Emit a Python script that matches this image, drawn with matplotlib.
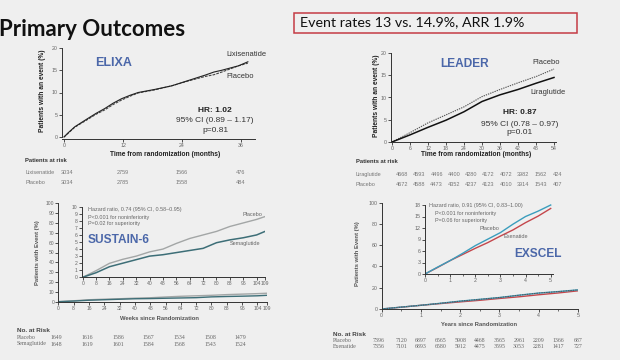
import matplotlib
matplotlib.use("Agg")
import matplotlib.pyplot as plt
from matplotlib.patches import Rectangle

# ---------------- data ----------------
title = "Primary Outcomes"
banner = "Event rates 13 vs. 14.9%, ARR 1.9%"

# ELIXA (months, % with event)
elixa_t = [0, 0.9, 2.2, 4.9, 6.5, 8.3, 10.0, 11.7, 13.5, 15.1, 18.5, 21.9, 25.3, 28.7, 30.5, 32.1, 35.5, 37.4]
elixa_lixi = [0, 1.0, 2.3, 4.2, 5.3, 6.4, 7.6, 8.6, 9.4, 10.0, 10.7, 11.5, 12.7, 13.9, 14.6, 15.0, 16.0, 16.9]
elixa_plac = [0, 0.9, 2.2, 4.0, 5.1, 6.1, 7.3, 8.3, 9.2, 9.9, 10.6, 11.5, 12.6, 13.6, 14.0, 14.6, 16.0, 16.6]
elixa_risk_t = [0, 12, 24, 36]
elixa_risk_lixi = ["3034", "2759", "1566", "476"]
elixa_risk_plac = ["3034", "2785", "1558", "484"]

# LEADER
leader_t = [0, 6, 12, 18, 24, 30, 36, 42, 48, 54]
leader_plac = [0, 2.1, 4.3, 6.1, 7.9, 10.2, 11.8, 13.3, 14.7, 16.4]
leader_lira = [0, 1.6, 3.3, 4.9, 6.8, 9.1, 10.6, 11.8, 13.2, 14.5]
leader_risk_t = [0, 6, 12, 18, 24, 30, 36, 42, 48, 54]
leader_risk_lira = ["4668", "4593", "4496", "4400", "4280", "4172", "4072", "3982", "1562", "424"]
leader_risk_plac = ["4672", "4588", "4473", "4352", "4237", "4123", "4010", "3914", "1543", "407"]

# SUSTAIN-6 (weeks)
sus_t = [0, 8, 16, 24, 32, 40, 48, 56, 64, 72, 80, 88, 96, 104, 109]
sus_plac = [0, 0.94, 1.98, 2.55, 3.0, 3.6, 4.0, 4.8, 5.5, 6.0, 6.5, 7.2, 7.7, 8.2, 8.6]
sus_sema = [0, 0.65, 1.5, 2.0, 2.5, 3.0, 3.2, 3.5, 3.8, 4.1, 4.9, 5.3, 5.6, 6.0, 6.5]
sus_ticks = [0, 8, 16, 24, 32, 40, 48, 56, 64, 72, 80, 88, 96, 104, 109]
sus_risk_t = [0, 16, 32, 48, 64, 80, 96]
sus_risk_plac = ["1649", "1616", "1586", "1567", "1534", "1508", "1479"]
sus_risk_sema = ["1648", "1619", "1601", "1584", "1568", "1543", "1524"]

# EXSCEL (years)
ex_t = [0, 0.5, 1, 1.5, 2, 2.5, 3, 3.5, 4, 4.5, 5]
ex_plac = [0, 1.8, 3.5, 5.4, 7.4, 9.1, 10.8, 13.0, 15.0, 16.4, 18.0]
ex_exen = [0, 1.7, 3.5, 5.1, 6.7, 8.2, 9.9, 11.5, 13.4, 15.1, 17.1]
ex_risk_t = [0, 0.5, 1, 1.5, 2, 2.5, 3, 3.5, 4, 4.5, 5]
ex_risk_plac = ["7396", "7120", "6897", "6565", "5908", "4468", "3565", "2961", "2209", "1366", "687"]
ex_risk_exen = ["7356", "7101", "6893", "6580", "5912", "4475", "3595", "3053", "2281", "1417", "727"]

# ---------------- style ----------------
W, H = 620, 360
BG = "#efefef"
BLUE = "#4b67a9"
SANS = ["Liberation Sans", "DejaVu Sans"]
plt.rcParams["font.family"] = SANS

fig = plt.figure(figsize=(W / 100, H / 100), dpi=100, facecolor=BG)


def txt(x, y, s, **kw):
    kw.setdefault("va", "center")
    return fig.text(x / W, 1 - y / H, s, **kw)


def make_ax(xa, ya, xlim, ylim):
    """xa/ya = (data0, pix0, data1, pix1); pixel y measured downward."""
    sx = (xa[3] - xa[1]) / (xa[2] - xa[0])
    sy = (ya[3] - ya[1]) / (ya[2] - ya[0])
    left = xa[1] + (xlim[0] - xa[0]) * sx
    right = xa[1] + (xlim[1] - xa[0]) * sx
    top = ya[1] + (ylim[1] - ya[0]) * sy
    bot = ya[1] + (ylim[0] - ya[0]) * sy
    ax = fig.add_axes([left / W, 1 - bot / H, (right - left) / W, (bot - top) / H])
    ax.set_xlim(*xlim)
    ax.set_ylim(*ylim)
    ax.patch.set_visible(False)
    for s in ("top", "right"):
        ax.spines[s].set_visible(False)
    for s in ("left", "bottom"):
        ax.spines[s].set_linewidth(0.7)
        ax.spines[s].set_color("#333333")
    ax.tick_params(length=2, width=0.6, labelsize=3.8, pad=1, colors="#333333",
                   labelcolor="#666666")
    tox = lambda v: xa[1] + (v - xa[0]) * sx
    return ax, tox


# ---------------- header ----------------
txt(-1, 30, title, fontsize=16, fontweight="bold", family=["Lato", "DejaVu Sans"],
    ha="left", color="#111111")
fig.patches.append(Rectangle((293.5 / W, 1 - 32.5 / H), (577 - 293.5) / W, 19.5 / H,
                             transform=fig.transFigure, fill=False, ec="#c43b45", lw=1.1))
txt(300, 22.5, banner, fontsize=10.3, family=["Lato", "DejaVu Sans"], ha="left", color="#111111")

# ---------------- ELIXA ----------------
ax, tox = make_ax((0, 64, 36, 241), (0, 137, 20, 48), (-0.4, 38.9), (-0.45, 20))
ax.plot(elixa_t, elixa_plac, color="#444444", lw=0.8, ls=(0, (2.5, 1)))
ax.plot(elixa_t, elixa_lixi, color="#222222", lw=0.8)
ax.set_xticks([0, 12, 24, 36])
ax.set_yticks([0, 5, 10, 15, 20])
ax.spines["left"].set_bounds(0, 20)
txt(114, 63, "ELIXA", fontsize=9, fontweight="bold", color=BLUE, ha="center")
txt(226, 55, "Lixisenatide", fontsize=5.4, color="#333333", ha="left")
txt(226, 77, "Placebo", fontsize=5.4, color="#333333", ha="left")
txt(215, 111, "HR: 1.02", fontsize=6, fontweight="bold", color="#222222", ha="center")
txt(215, 121, "95% CI (0.89 \u2013 1.17)", fontsize=6, color="#333333", ha="center")
txt(215, 131, "p=0.81", fontsize=6, color="#333333", ha="center")
txt(165, 155, "Time from randomization (months)", fontsize=4.8, fontweight="bold",
    color="#222222", ha="center")
txt(43, 91, "Patients with an event (%)", fontsize=4.8, fontweight="bold", color="#222222",
    ha="center", rotation=90)
txt(25, 161, "Patients at risk", fontsize=4.2, fontweight="bold", color="#333333", ha="left")
txt(25, 172, "Lixisenatide", fontsize=4, color="#777777", ha="left")
txt(25, 183, "Placebo", fontsize=4, color="#777777", ha="left")
for t, a, b in zip(elixa_risk_t, elixa_risk_lixi, elixa_risk_plac):
    x = tox(t) + (3 if t == 0 else 0)
    txt(x, 172, a, fontsize=4, color="#777777", ha="center")
    txt(x, 183, b, fontsize=4, color="#777777", ha="center")

# ---------------- LEADER ----------------
ax, tox = make_ax((0, 392, 54, 554), (0, 142, 20, 53), (-0.4, 54.6), (0, 20))
ax.plot(leader_t, leader_plac, color="#555555", lw=0.8, ls=(0, (1.2, 0.9)))
ax.plot(leader_t, leader_lira, color="#111111", lw=1.1)
ax.set_xticks(leader_t)
ax.set_yticks([0, 5, 10, 15, 20])
txt(465, 64, "LEADER", fontsize=8.6, fontweight="bold", color=BLUE, ha="center")
txt(532, 62, "Placebo", fontsize=5.4, color="#333333", ha="left")
txt(530, 92, "Liraglutide", fontsize=5.4, color="#333333", ha="left")
txt(520, 113, "HR: 0.87", fontsize=6, fontweight="bold", color="#222222", ha="center")
txt(520, 124, "95% CI (0.78 \u2013 0.97)", fontsize=6, color="#333333", ha="center")
txt(520, 133, "p=0.01", fontsize=6, color="#333333", ha="center")
txt(476, 155, "Time from randomization (months)", fontsize=4.8, fontweight="bold",
    color="#222222", ha="center")
txt(376, 96, "Patients with an event (%)", fontsize=4.8, fontweight="bold", color="#222222",
    ha="center", rotation=90)
txt(356, 162, "Patients at risk", fontsize=4.2, fontweight="bold", color="#333333", ha="left")
txt(356, 174, "Liraglutide", fontsize=4, color="#777777", ha="left")
txt(356, 184, "Placebo", fontsize=4, color="#777777", ha="left")
for k, (a, b) in enumerate(zip(leader_risk_lira, leader_risk_plac)):
    x = 402 + k * 17.3
    txt(x, 174, a, fontsize=4, color="#777777", ha="center")
    txt(x, 184, b, fontsize=4, color="#777777", ha="center")

# ---------------- SUSTAIN-6 ----------------
GRAY = "#a3a6a6"
TEAL = "#3d6e77"
ax, tox = make_ax((0, 58.3, 109, 267), (0, 301.7, 100, 203.3), (0, 109), (0, 100))
ax.plot(sus_t, sus_plac, color=GRAY, lw=1.0)
ax.plot(sus_t, sus_sema, color=TEAL, lw=1.0)
ax.set_xticks(sus_ticks)
ax.set_yticks(range(0, 101, 10))
ax.tick_params(labelsize=3.6)
ax.set_xticklabels([str(v) for v in sus_ticks])

axi, _ = make_ax((0, 82.7, 109, 265), (0, 277.3, 10, 206.7), (-0.6, 109), (0, 10))
axi.plot(sus_t, sus_plac, color=GRAY, lw=1.0)
axi.plot(sus_t, sus_sema, color=TEAL, lw=1.1)
axi.set_xticks(sus_ticks)
axi.set_yticks(range(0, 11))
axi.tick_params(labelsize=3.6)
txt(88, 209, "Hazard ratio, 0.74 (95% CI, 0.58\u20130.95)", fontsize=3.9, color="#666666", ha="left")
txt(88, 217, "P<0.001 for noninferiority", fontsize=3.9, color="#666666", ha="left")
txt(88, 224, "P=0.02 for superiority", fontsize=3.9, color="#666666", ha="left")
txt(88, 240, "SUSTAIN-6", fontsize=8.6, fontweight="bold", color=BLUE, ha="left")
txt(243, 214, "Placebo", fontsize=4, color="#666666", ha="left")
txt(230, 244, "Semaglutide", fontsize=4, color="#666666", ha="left")
txt(159, 318, "Weeks since Randomization", fontsize=4.2, fontweight="bold", color="#555555",
    ha="center")
txt(37, 253, "Patients with Event (%)", fontsize=4.2, fontweight="bold", color="#555555",
    ha="center", rotation=90)
txt(17, 330, "No. at Risk", fontsize=4.6, fontweight="bold", color="#444444", ha="left")
txt(17, 337.3, "Placebo", fontsize=4.2, color="#666666", ha="left",
    family=["Liberation Serif", "DejaVu Serif"])
txt(17, 344, "Semaglutide", fontsize=4.2, color="#666666", ha="left",
    family=["Liberation Serif", "DejaVu Serif"])
for t, a, b in zip(sus_risk_t, sus_risk_plac, sus_risk_sema):
    x = tox(t) - 1.5
    txt(x, 337.3, a, fontsize=4.2, color="#666666", ha="center",
        family=["Liberation Serif", "DejaVu Serif"])
    txt(x, 344, b, fontsize=4.2, color="#666666", ha="center",
        family=["Liberation Serif", "DejaVu Serif"])

# ---------------- EXSCEL ----------------
CYAN = "#3a9dbd"
RED = "#c4474c"
ax, tox = make_ax((0, 381.7, 5, 578), (0, 309, 100, 202.7), (0, 5), (0, 100))
ax.plot(ex_t, ex_exen, color=RED, lw=1.0)
ax.plot(ex_t, ex_plac, color=CYAN, lw=1.0)
ax.plot(ex_t, ex_plac, color="#555555", lw=0.7, ls=(0, (1.5, 1)))
ax.set_xticks(range(0, 6))
ax.set_xticks([0.5, 1.5, 2.5, 3.5, 4.5], minor=True)
ax.set_yticks(range(0, 101, 20))
ax.tick_params(which="minor", length=1.5, width=0.5, colors="#333333")

axi, _ = make_ax((0, 425, 5, 550.7), (0, 274, 18, 205), (0, 5.2), (0, 18.3))
axi.plot(ex_t, ex_exen, color=RED, lw=1.0)
axi.plot(ex_t, ex_plac, color=CYAN, lw=1.0)
axi.set_xticks(range(0, 6))
axi.set_xticks([0.5, 1.5, 2.5, 3.5, 4.5], minor=True)
axi.set_yticks(range(0, 19, 3))
axi.tick_params(which="minor", length=1.5, width=0.5, colors="#333333")
axi.spines["left"].set_bounds(0, 18)
axi.spines["bottom"].set_bounds(0, 5.1)
txt(429, 206, "Hazard ratio, 0.91 (95% CI, 0.83\u20131.00)", fontsize=3.9, color="#666666", ha="left")
txt(435, 213, "P<0.001 for noninferiority", fontsize=3.9, color="#666666", ha="left")
txt(435, 220, "P=0.06 for superiority", fontsize=3.9, color="#666666", ha="left")
txt(480, 228, "Placebo", fontsize=4, color="#666666", ha="left")
txt(503, 237, "Exenatide", fontsize=4, color="#666666", ha="left")
txt(538, 254, "EXSCEL", fontsize=8.6, fontweight="bold", color=BLUE, ha="center")
txt(479.5, 325, "Years since Randomization", fontsize=4.2, fontweight="bold", color="#555555",
    ha="center")
txt(358, 253.5, "Patients with Event (%)", fontsize=4.2, fontweight="bold", color="#555555",
    ha="center", rotation=90)
txt(333, 334, "No. at Risk", fontsize=4.6, fontweight="bold", color="#444444", ha="left")
txt(333, 340.7, "Placebo", fontsize=4.2, color="#666666", ha="left",
    family=["Liberation Serif", "DejaVu Serif"])
txt(333, 346.5, "Exenatide", fontsize=4.2, color="#666666", ha="left",
    family=["Liberation Serif", "DejaVu Serif"])
for t, a, b in zip(ex_risk_t, ex_risk_plac, ex_risk_exen):
    x = tox(t) - (3 if t == 0 else 0)
    txt(x, 340.7, a, fontsize=4.2, color="#666666", ha="center",
        family=["Liberation Serif", "DejaVu Serif"])
    txt(x, 346.5, b, fontsize=4.2, color="#666666", ha="center",
        family=["Liberation Serif", "DejaVu Serif"])

fig.savefig("out.png", dpi=100, facecolor=BG)
